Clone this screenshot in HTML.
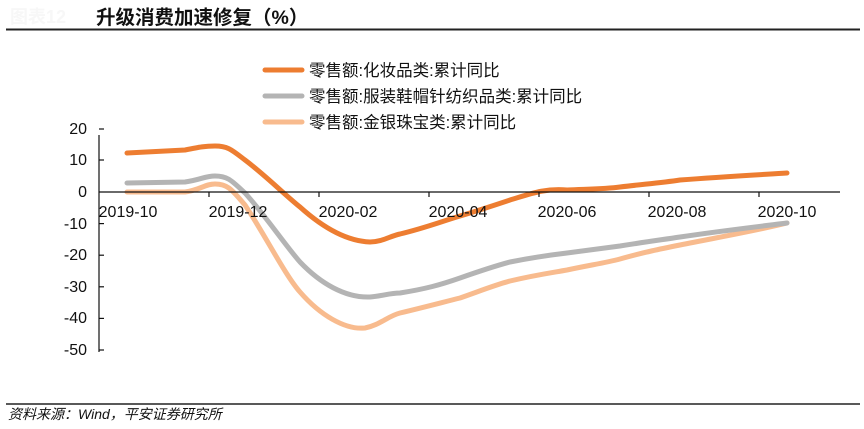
<!DOCTYPE html>
<html><head><meta charset="utf-8"><style>
html,body{margin:0;padding:0;background:#fff;}
svg text{font-family:"Liberation Sans","Noto Sans CJK SC",sans-serif;}
</style></head><body>
<svg width="864" height="424" viewBox="0 0 864 424" xmlns="http://www.w3.org/2000/svg">
<rect width="864" height="424" fill="#fff"/>
<text x="10" y="23" font-size="18" fill="#f7f7f7" font-weight="bold">图表12</text>
<text x="96" y="24" font-size="19.5" font-weight="bold" fill="#111">升级消费加速修复（%）</text>
<line x1="6" y1="29.5" x2="860" y2="29.5" stroke="#222" stroke-width="2"/>
<line x1="6" y1="404" x2="860" y2="404" stroke="#222" stroke-width="1.5"/>
<text x="8" y="419" font-size="14" font-style="italic" fill="#111">资料来源：Wind，平安证券研究所</text>
<g stroke-width="5" stroke-linecap="round">
<line x1="265" y1="70" x2="302" y2="70" stroke="#ed7d31"/>
<line x1="265" y1="96" x2="302" y2="96" stroke="#b4b4b4"/>
<line x1="265" y1="122" x2="302" y2="122" stroke="#f8bb8e"/>
</g>
<g font-size="16.5" fill="#111">
<text x="309" y="76">零售额:化妆品类:累计同比</text>
<text x="309" y="102">零售额:服装鞋帽针纺织品类:累计同比</text>
<text x="309" y="128">零售额:金银珠宝类:累计同比</text>
</g>
<g fill="none" stroke-width="5" stroke-linecap="round" stroke-linejoin="round">
<path stroke="#f8bb8e" d="M127,192 L185,192 C200,190 205,184 215,184 C228,184 232,190 245,205 C265,235 285,275 300,292 C320,315 345,330 365,328 C380,325 388,316 400,313 C425,307 440,303 460,298 C480,291 495,285 510,281 C535,275 550,273 567,270 C590,265 605,263 620,259 C645,252 660,249 680,245 C720,237 755,231 787,223"/>
<path stroke="#b4b4b4" d="M127,183 L185,182 C200,180 205,176 215,176 C228,176 232,181 245,193 C265,215 285,245 300,262 C320,283 345,298 370,297 C382,296 390,293 400,293 C425,289 440,285 460,278 C480,271 495,266 510,262 C535,257 550,255 567,253 C590,250 605,248 620,246 C645,242 660,240 680,237 C720,231 755,227 787,223"/>
<path stroke="#ed7d31" d="M127,153 L185,150 C200,147 205,146 215,146 C228,146 232,150 245,160 C265,175 285,195 300,207 C320,225 345,241 370,242 C382,242 390,236 400,234 C425,228 440,222 460,216 C480,210 495,205 510,200 C530,194 545,188 567,190 C590,189 605,189 620,187 C645,184 660,183 680,180 C720,177 755,175 787,173"/>
</g>
<g stroke="#111" stroke-width="1.2">
<line x1="99" y1="135" x2="99" y2="352"/>
<line x1="99" y1="192" x2="840" y2="192"/>
<line x1="99" y1="129" x2="104" y2="129"/>
<line x1="99" y1="160" x2="104" y2="160"/>
<line x1="99" y1="223.6" x2="104" y2="223.6"/>
<line x1="99" y1="255.2" x2="104" y2="255.2"/>
<line x1="99" y1="286.8" x2="104" y2="286.8"/>
<line x1="99" y1="318.4" x2="104" y2="318.4"/>
<line x1="99" y1="350" x2="104" y2="350"/>
<line x1="209" y1="192" x2="209" y2="197"/>
<line x1="319" y1="192" x2="319" y2="197"/>
<line x1="429" y1="192" x2="429" y2="197"/>
<line x1="539" y1="192" x2="539" y2="197"/>
<line x1="649" y1="192" x2="649" y2="197"/>
<line x1="759" y1="192" x2="759" y2="197"/>
</g>
<g font-size="16" fill="#111" text-anchor="end">
<text x="87" y="134">20</text>
<text x="87" y="165">10</text>
<text x="87" y="197">0</text>
<text x="87" y="229">-10</text>
<text x="87" y="260">-20</text>
<text x="87" y="292">-30</text>
<text x="87" y="323">-40</text>
<text x="87" y="355">-50</text>
</g>
<g font-size="16" fill="#111" text-anchor="middle">
<text x="128" y="217">2019-10</text>
<text x="238" y="217">2019-12</text>
<text x="348" y="217">2020-02</text>
<text x="458" y="217">2020-04</text>
<text x="567" y="217">2020-06</text>
<text x="677" y="217">2020-08</text>
<text x="787" y="217">2020-10</text>
</g>
</svg>
</body></html>
